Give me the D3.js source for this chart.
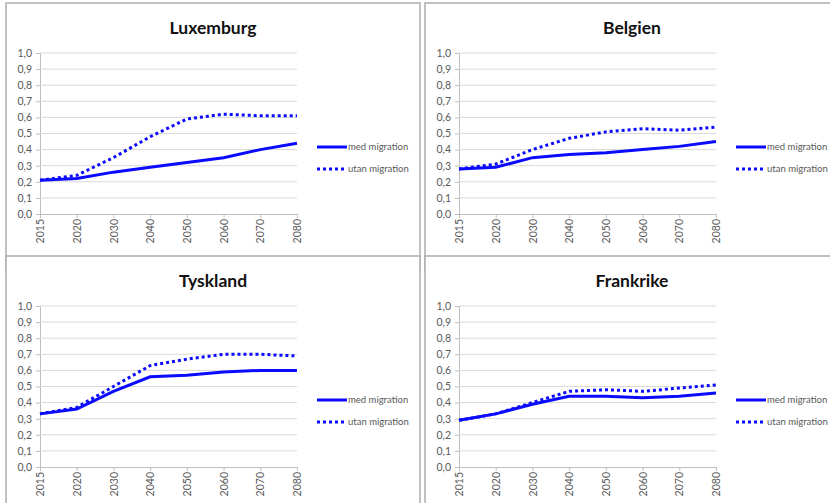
<!DOCTYPE html>
<html>
<head>
<meta charset="utf-8">
<script src="https://cdn.jsdelivr.net/npm/d3@7"></script>
<style>
  html, body { margin: 0; padding: 0; background: #fff; }
  svg { display: block; }
  text { font-family: Lato, "Open Sans", "Liberation Sans", sans-serif; }
</style>
</head>
<body>
<svg id="chart" width="830" height="503"></svg>
<script>
// Years on the category axis
const years = ["2015", "2020", "2030", "2040", "2050", "2060", "2070", "2080"];
const yTicks = [0, 0.1, 0.2, 0.3, 0.4, 0.5, 0.6, 0.7, 0.8, 0.9, 1.0];
const countries = ["Luxemburg", "Belgien", "Tyskland", "Frankrike"];
const seriesNames = ["med migration", "utan migration"];

// Series values per country
const luxemburgMed  = [0.21, 0.22, 0.26, 0.29, 0.32, 0.35, 0.40, 0.44];
const luxemburgUtan = [0.21, 0.24, 0.35, 0.48, 0.59, 0.62, 0.61, 0.61];
const belgienMed    = [0.28, 0.29, 0.35, 0.37, 0.38, 0.40, 0.42, 0.45];
const belgienUtan   = [0.28, 0.31, 0.40, 0.47, 0.51, 0.53, 0.52, 0.54];
const tysklandMed   = [0.33, 0.36, 0.47, 0.56, 0.57, 0.59, 0.60, 0.60];
const tysklandUtan  = [0.33, 0.37, 0.50, 0.63, 0.67, 0.70, 0.70, 0.69];
const frankrikeMed  = [0.29, 0.33, 0.39, 0.44, 0.44, 0.43, 0.44, 0.46];
const frankrikeUtan = [0.29, 0.33, 0.40, 0.47, 0.48, 0.47, 0.49, 0.51];

const medSeries  = [luxemburgMed, belgienMed, tysklandMed, frankrikeMed];
const utanSeries = [luxemburgUtan, belgienUtan, tysklandUtan, frankrikeUtan];

const svg = d3.select("#chart");
const blue = "#0a0aff";
const fmt = d => d3.format(".1f")(d).replace(".", ",");

// Panel origins (2 x 2 grid)
const origins = [[6, 3], [425, 3], [6, 256], [425, 256]];
const panelW = 414, panelH = 249;

const x = d3.scalePoint().domain(years).range([34, 291]);
const y = d3.scaleLinear().domain([0, 1]).range([211, 50]);

countries.forEach((name, i) => {
  const [ox, oy] = origins[i];
  const g = svg.append("g").attr("transform", `translate(${ox},${oy})`);

  // frame
  g.append("rect")
    .attr("x", 0).attr("y", 0)
    .attr("width", panelW).attr("height", panelH + 20)
    .attr("fill", "#fff")
    .attr("stroke", "#adadad")
    .attr("stroke-width", 1.5);

  // title
  g.append("text")
    .attr("x", 207).attr("y", 31)
    .attr("text-anchor", "middle")
    .attr("font-size", 17.5)
    .attr("font-weight", "bold")
    .attr("fill", "#111")
    .text(name);

  // horizontal gridlines and y axis
  const yAxis = d3.axisLeft(y)
    .tickValues(yTicks)
    .tickFormat(fmt)
    .tickSize(4)
    .tickPadding(4);
  const ya = g.append("g")
    .attr("transform", `translate(${x.range()[0]},0)`)
    .call(yAxis);
  ya.select(".domain").attr("stroke", "#bfbfbf");
  ya.selectAll(".tick line").attr("stroke", "#bfbfbf");
  ya.selectAll(".tick text")
    .attr("fill", "#595959")
    .attr("font-size", 10.5)
    .style("font-family", "Lato, 'Open Sans', sans-serif");

  g.append("g")
    .selectAll("line")
    .data(yTicks.filter(d => d > 0))
    .join("line")
    .attr("x1", x.range()[0]).attr("x2", x.range()[1])
    .attr("y1", d => y(d)).attr("y2", d => y(d))
    .attr("stroke", "#d9d9d9")
    .attr("stroke-width", 1);

  // x axis with rotated year labels
  const xAxis = d3.axisBottom(x).tickSize(4).tickPadding(3);
  const xa = g.append("g")
    .attr("transform", `translate(0,${y(0)})`)
    .call(xAxis);
  xa.select(".domain").attr("stroke", "#bfbfbf");
  xa.selectAll(".tick line").attr("stroke", "#bfbfbf");
  xa.selectAll(".tick text")
    .attr("fill", "#595959")
    .attr("font-size", 10.5)
    .attr("text-anchor", "end")
    .attr("transform", "rotate(-90)")
    .attr("x", -5)
    .attr("y", 0)
    .attr("dy", "0.35em");

  const line = d3.line()
    .x((d, k) => x(years[k]))
    .y(d => y(d));

  // series lines
  g.append("path")
    .datum(utanSeries[i])
    .attr("d", line)
    .attr("fill", "none")
    .attr("stroke", blue)
    .attr("stroke-width", 3)
    .attr("stroke-dasharray", "3,3");

  g.append("path")
    .datum(medSeries[i])
    .attr("d", line)
    .attr("fill", "none")
    .attr("stroke", blue)
    .attr("stroke-width", 3);

  // legend
  const legend = g.append("g");
  seriesNames.forEach((s, k) => {
    const ly = 144 + k * 22;
    legend.append("line")
      .attr("x1", 311).attr("x2", 341)
      .attr("y1", ly).attr("y2", ly)
      .attr("stroke", blue)
      .attr("stroke-width", 3)
      .attr("stroke-dasharray", k === 1 ? "3,3" : null);
    legend.append("text")
      .attr("x", 342).attr("y", ly)
      .attr("dy", "0.35em")
      .attr("font-size", 9.5)
      .attr("fill", "#595959")
      .text(s);
  });
});
</script>
</body>
</html>
